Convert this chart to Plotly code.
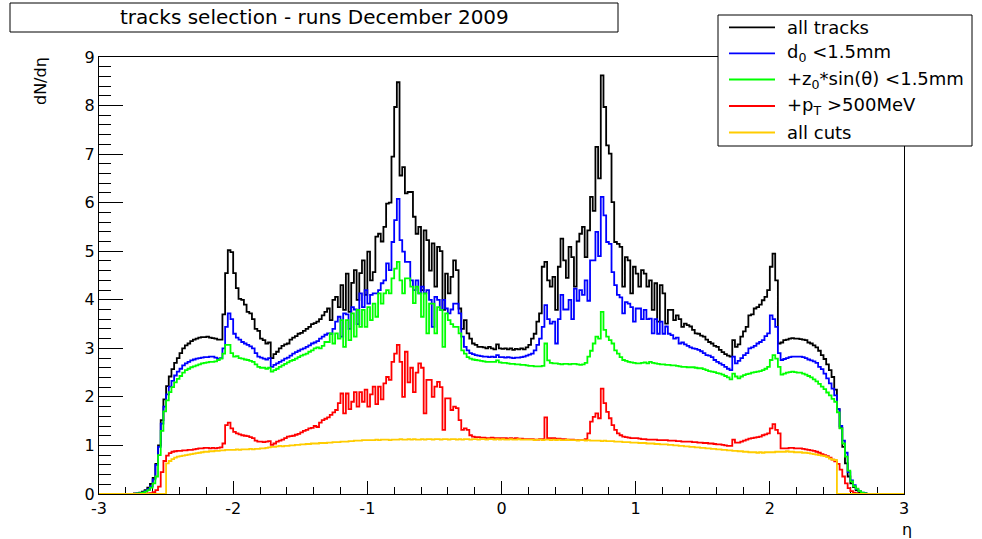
import numpy as np
import plotly.graph_objects as go

# ---------------- data (300 bins of width 0.02 from -3 to 3) ----------------
ETA_MIN = -3.0
ETA_MAX = 3.0
N_BINS = 300

all_tracks = [
    0, 0, 0, 0, 0, 0, 0, 0, 0, 0,
    0, 0, 0, 0.01, 0.01, 0.03, 0.05, 0.08, 0.13, 0.21,
    0.33, 0.62, 1.0, 1.52, 1.95, 2.22, 2.42, 2.57, 2.7, 2.8,
    2.9, 3.0, 3.06, 3.1, 3.15, 3.18, 3.2, 3.22, 3.23, 3.23,
    3.24, 3.22, 3.21, 3.2, 3.18, 3.18, 3.7, 4.55, 5.02, 4.98,
    4.55, 4.24, 4.02, 4.0, 3.9, 3.75, 3.72, 3.6, 3.4, 3.36,
    3.2, 3.17, 3.1, 3.12, 2.8, 2.88, 2.93, 3.0, 3.05, 3.08,
    3.1, 3.18, 3.22, 3.25, 3.3, 3.32, 3.36, 3.4, 3.44, 3.5,
    3.52, 3.55, 3.6, 3.68, 3.75, 3.82, 3.58, 4.0, 4.06, 3.85,
    4.3, 3.79, 4.54, 3.75, 4.35, 4.61, 4.0, 4.55, 4.81, 4.1,
    4.99, 4.4, 4.57, 5.3, 5.36, 5.2, 5.5, 5.98, 6.0, 6.95,
    7.97, 8.48, 6.56, 6.73, 6.19, 6.22, 6.22, 5.71, 5.36, 5.5,
    4.2, 5.43, 5.23, 4.6, 5.16, 4.27, 5.09, 5.0, 3.79, 4.54,
    4.13, 4.47, 4.81, 4.61, 3.82, 3.4, 3.58, 3.31, 3.2, 3.1,
    3.07, 3.03, 3.03, 3.02, 3.0, 3.03, 3.0, 2.98, 3.08, 3.0,
    2.99, 3.0, 2.98, 3.0, 2.97, 2.99, 2.98, 3.0, 2.98, 3.02,
    3.07, 3.2, 3.3, 3.55, 3.72, 4.68, 4.78, 4.4, 4.27, 4.47,
    3.79, 4.68, 5.26, 4.81, 4.45, 5.09, 4.88, 4.27, 5.2, 5.36,
    5.5, 4.88, 5.43, 6.12, 5.83, 7.15, 6.5, 8.62, 7.97, 7.18,
    7.01, 6.01, 5.19, 5.15, 5.09, 4.27, 4.88, 4.81, 4.13, 4.68,
    4.54, 4.27, 4.61, 4.54, 4.27, 4.4, 3.79, 4.34, 3.55, 4.3,
    4.13, 3.51, 3.79, 3.79, 3.58, 3.68, 3.6, 3.44, 3.51, 3.48,
    3.45, 3.38, 3.31, 3.3, 3.26, 3.24, 3.18, 3.13, 3.1, 3.05,
    3.03, 2.97, 2.92, 2.88, 2.85, 2.83, 3.17, 3.03, 3.08, 3.24,
    3.35, 3.44, 3.68, 3.7, 3.82, 3.85, 3.9, 3.99, 4.06, 4.2,
    4.68, 4.95, 4.4, 3.1, 3.12, 3.17, 3.18, 3.2, 3.21, 3.2,
    3.2, 3.19, 3.18, 3.17, 3.12, 3.1, 3.06, 3.02, 2.95, 2.86,
    2.78, 2.67, 2.55, 2.41, 2.15, 1.75, 1.36, 0.97, 0.63, 0.36,
    0.22, 0.14, 0.08, 0.04, 0.02, 0.01, 0, 0, 0, 0,
    0, 0, 0, 0, 0, 0, 0, 0, 0, 0,
]

d0_cut = [
    0, 0, 0, 0, 0, 0, 0, 0, 0, 0,
    0, 0, 0, 0, 0.01, 0.02, 0.03, 0.06, 0.1, 0.16,
    0.3, 0.6, 0.97, 1.45, 1.8, 2.05, 2.21, 2.33, 2.44, 2.52,
    2.58, 2.65, 2.69, 2.72, 2.75, 2.77, 2.79, 2.8, 2.81, 2.82,
    2.82, 2.83, 2.83, 2.81, 2.79, 2.8, 3.0, 3.44, 3.72, 3.6,
    3.3, 3.22, 3.18, 3.13, 3.1, 3.07, 3.04, 3.0, 2.9, 2.83,
    2.81, 2.79, 2.77, 2.8, 2.62, 2.66, 2.69, 2.72, 2.75, 2.79,
    2.81, 2.85, 2.89, 2.92, 2.95, 2.98, 3.0, 3.03, 3.06, 3.1,
    3.12, 3.15, 3.2, 3.24, 3.28, 3.31, 3.3, 3.4, 3.55, 3.65,
    3.24, 3.72, 3.7, 3.4, 3.85, 3.8, 3.5, 4.13, 3.85, 4.2,
    3.92, 4.1, 4.13, 4.13, 4.2, 4.34, 4.4, 4.75, 4.61, 5.19,
    5.64, 6.08, 5.23, 4.99, 4.78, 4.78, 4.4, 4.2, 4.4, 4.13,
    4.27, 4.13, 4.2, 4.0, 3.44, 4.06, 4.0, 3.79, 4.0, 3.82,
    3.72, 3.8, 3.92, 3.92, 3.72, 3.24, 3.03, 2.96, 2.9, 2.88,
    2.86, 2.85, 2.84, 2.83, 2.83, 2.82, 2.83, 2.82, 2.86, 2.82,
    2.82, 2.81, 2.82, 2.81, 2.8, 2.81, 2.81, 2.82, 2.83, 2.85,
    2.87, 2.89, 2.96, 3.07, 3.2, 3.44, 3.89, 3.6, 3.51, 3.55,
    3.1, 3.6, 4.1, 3.8, 3.8, 4.0, 3.6, 4.23, 3.98, 4.2,
    4.1, 4.4, 3.98, 4.81, 4.81, 5.4, 4.9, 6.12, 5.74, 5.19,
    5.15, 4.57, 4.3, 4.1, 4.05, 3.72, 3.95, 3.92, 3.85, 3.55,
    3.82, 3.82, 3.6, 3.79, 3.6, 3.61, 3.31, 3.6, 3.3, 3.55,
    3.3, 3.45, 3.3, 3.27, 3.2, 3.22, 3.1, 3.12, 3.08, 3.05,
    3.02, 3.0, 2.99, 2.97, 2.94, 2.9, 2.86, 2.85, 2.82, 2.76,
    2.72, 2.69, 2.66, 2.62, 2.58, 2.55, 2.83, 2.69, 2.74, 2.8,
    2.86, 2.9, 3.0, 3.02, 3.05, 3.1, 3.13, 3.17, 3.25, 3.31,
    3.68, 3.6, 3.44, 2.9, 2.76, 2.78, 2.8, 2.82, 2.83, 2.83,
    2.83, 2.83, 2.82, 2.8, 2.77, 2.75, 2.73, 2.7, 2.62, 2.57,
    2.48, 2.38, 2.28, 2.17, 2.03, 1.75, 1.4, 1.1, 0.85, 0.45,
    0.28, 0.18, 0.1, 0.06, 0.03, 0.01, 0, 0, 0, 0,
    0, 0, 0, 0, 0, 0, 0, 0, 0, 0,
]

z0_cut = [
    0, 0, 0, 0, 0, 0, 0, 0, 0, 0,
    0, 0, 0, 0, 0.01, 0.02, 0.03, 0.05, 0.08, 0.13,
    0.22, 0.36, 0.8, 1.3, 1.7, 1.93, 2.1, 2.2, 2.3, 2.37,
    2.43, 2.5, 2.55, 2.58, 2.61, 2.63, 2.65, 2.67, 2.69, 2.7,
    2.71, 2.72, 2.72, 2.73, 2.76, 2.79, 2.89, 3.07, 3.07, 2.9,
    2.83, 2.84, 2.8, 2.79, 2.77, 2.76, 2.74, 2.72, 2.67, 2.62,
    2.6, 2.6, 2.58, 2.6, 2.52, 2.55, 2.58, 2.62, 2.65, 2.68,
    2.71, 2.74, 2.76, 2.79, 2.82, 2.85, 2.87, 2.89, 2.93, 2.96,
    3.0, 3.02, 3.0, 3.05, 3.13, 3.13, 3.31, 3.1, 3.31, 3.2,
    3.58, 3.03, 3.58, 3.17, 3.72, 3.24, 3.79, 3.44, 3.79, 3.44,
    3.85, 3.58, 3.92, 3.65, 4.13, 3.92, 4.13, 4.2, 4.13, 4.44,
    4.64, 4.78, 4.4, 4.13, 4.44, 4.44, 4.27, 3.93, 4.27, 4.13,
    3.65, 4.13, 3.31, 3.92, 3.92, 3.31, 3.85, 3.79, 3.03, 3.72,
    3.58, 3.5, 3.44, 3.44, 3.31, 2.96, 2.89, 2.82, 2.79, 2.77,
    2.76, 2.75, 2.74, 2.73, 2.72, 2.72, 2.72, 2.72, 2.75, 2.71,
    2.7, 2.7, 2.69, 2.68, 2.68, 2.67, 2.67, 2.66, 2.66, 2.65,
    2.64, 2.64, 2.63, 2.63, 2.63, 2.64, 3.1, 2.75, 2.7, 2.69,
    2.69, 2.68, 2.67, 2.68, 2.68, 2.67, 2.68, 2.68, 2.67, 2.66,
    2.67, 2.7, 2.83, 2.95, 3.1, 3.24, 3.2, 3.75, 3.38, 3.24,
    3.17, 3.1, 2.96, 2.89, 2.82, 2.76, 2.74, 2.72, 2.71, 2.7,
    2.69, 2.69, 2.7, 2.71, 2.69, 2.72, 2.7, 2.69, 2.68, 2.67,
    2.67, 2.66, 2.66, 2.65, 2.65, 2.64, 2.63, 2.62, 2.62, 2.61,
    2.61, 2.61, 2.6, 2.59, 2.59, 2.57, 2.55, 2.53, 2.52, 2.51,
    2.49, 2.48, 2.46, 2.43, 2.4, 2.36, 2.48, 2.42, 2.38, 2.42,
    2.45, 2.47, 2.48, 2.5, 2.51, 2.52, 2.53, 2.55, 2.58, 2.62,
    2.76, 2.86, 2.79, 2.62, 2.46, 2.48, 2.5, 2.51, 2.52, 2.51,
    2.5, 2.5, 2.48, 2.46, 2.43, 2.4, 2.36, 2.32, 2.27, 2.21,
    2.16, 2.09, 2.03, 1.96, 1.9, 1.68, 1.35, 1.04, 0.77, 0.48,
    0.26, 0.16, 0.11, 0.06, 0.03, 0.01, 0, 0, 0, 0,
    0, 0, 0, 0, 0, 0, 0, 0, 0, 0,
]

pt_cut = [
    0, 0, 0, 0, 0, 0, 0, 0, 0, 0,
    0, 0, 0, 0, 0, 0, 0, 0, 0.01, 0.02,
    0.04, 0.08, 0.15, 0.45, 0.68, 0.79, 0.84, 0.87, 0.88, 0.89,
    0.89, 0.9, 0.9, 0.91, 0.91, 0.92, 0.93, 0.94, 0.94, 0.95,
    0.95, 0.94, 0.95, 0.94, 0.95, 0.96, 1.04, 1.42, 1.47, 1.35,
    1.28, 1.25, 1.23, 1.21, 1.2, 1.19, 1.17, 1.15, 1.1, 1.08,
    1.08, 1.07, 1.08, 1.09, 1.01, 1.04, 1.08, 1.1, 1.12, 1.15,
    1.18, 1.19, 1.2, 1.22, 1.24, 1.27, 1.3, 1.32, 1.35, 1.36,
    1.4, 1.38, 1.47, 1.52, 1.55, 1.58, 1.63, 1.68, 1.73, 1.87,
    2.07, 1.66, 2.07, 1.75, 1.9, 2.1, 1.8, 2.1, 1.9, 2.15,
    1.8, 2.05, 2.21, 1.85, 2.21, 1.95, 2.28, 2.41, 2.35, 2.72,
    2.89, 3.07, 2.72, 2.0, 2.93, 2.3, 2.6, 2.1, 2.5, 2.69,
    2.6, 1.66, 2.35, 2.35, 2.0, 2.21, 2.31, 2.2, 1.32, 1.97,
    1.97, 1.73, 1.8, 1.77, 1.52, 1.32, 1.35, 1.32, 1.21, 1.18,
    1.17, 1.17, 1.16, 1.16, 1.15, 1.15, 1.16, 1.15, 1.15, 1.15,
    1.15, 1.15, 1.14, 1.15, 1.14, 1.15, 1.14, 1.14, 1.13, 1.13,
    1.13, 1.13, 1.12, 1.12, 1.13, 1.13, 1.58, 1.15, 1.15, 1.15,
    1.14, 1.14, 1.13, 1.13, 1.12, 1.12, 1.12, 1.11, 1.11, 1.11,
    1.11, 1.13, 1.25, 1.49, 1.59, 1.66, 1.56, 2.17, 1.87, 1.69,
    1.56, 1.42, 1.32, 1.25, 1.21, 1.18, 1.17, 1.16, 1.15, 1.15,
    1.15, 1.14, 1.13, 1.13, 1.12, 1.12, 1.12, 1.12, 1.11, 1.11,
    1.11, 1.11, 1.1, 1.1, 1.1, 1.09, 1.09, 1.08, 1.08, 1.08,
    1.08, 1.07, 1.07, 1.06, 1.06, 1.05, 1.05, 1.04, 1.04, 1.03,
    1.02, 1.02, 1.01, 1.0, 0.99, 0.99, 1.12, 1.06, 1.06, 1.08,
    1.1, 1.12, 1.14, 1.15, 1.16, 1.17, 1.18, 1.21, 1.23, 1.25,
    1.35, 1.44, 1.32, 1.25, 0.94, 0.94, 0.94, 0.95, 0.95, 0.94,
    0.94, 0.94, 0.93, 0.92, 0.91, 0.9, 0.89, 0.87, 0.85, 0.82,
    0.8, 0.78, 0.75, 0.71, 0.67, 0.62, 0.5, 0.36, 0.22, 0.12,
    0.06, 0.03, 0.01, 0, 0, 0, 0, 0, 0, 0,
    0, 0, 0, 0, 0, 0, 0, 0, 0, 0,
]

all_cuts = [
    0, 0, 0, 0, 0, 0, 0, 0, 0, 0,
    0, 0, 0, 0, 0, 0, 0, 0, 0, 0,
    0, 0, 0, 0, 0, 0.63, 0.68, 0.72, 0.75, 0.77,
    0.78, 0.79, 0.8, 0.81, 0.82, 0.83, 0.84, 0.85, 0.86, 0.87,
    0.87, 0.88, 0.88, 0.89, 0.89, 0.9, 0.9, 0.91, 0.91, 0.91,
    0.91, 0.92, 0.91, 0.92, 0.92, 0.92, 0.93, 0.92, 0.93, 0.93,
    0.94, 0.94, 0.95, 0.96, 0.97, 0.97, 0.98, 0.99, 0.98, 0.99,
    0.99, 1.0, 1.0, 1.01, 1.01, 1.02, 1.02, 1.03, 1.03, 1.04,
    1.04, 1.04, 1.05, 1.05, 1.05, 1.06, 1.06, 1.07, 1.07, 1.07,
    1.08, 1.08, 1.08, 1.09, 1.09, 1.1, 1.1, 1.1, 1.11, 1.11,
    1.11, 1.11, 1.11, 1.12, 1.11, 1.12, 1.12, 1.12, 1.11, 1.12,
    1.12, 1.12, 1.13, 1.12, 1.12, 1.13, 1.12, 1.13, 1.12, 1.12,
    1.13, 1.12, 1.13, 1.13, 1.12, 1.13, 1.13, 1.12, 1.13, 1.13,
    1.12, 1.13, 1.13, 1.12, 1.13, 1.12, 1.13, 1.13, 1.12, 1.13,
    1.13, 1.12, 1.13, 1.13, 1.12, 1.13, 1.13, 1.12, 1.13, 1.12,
    1.13, 1.12, 1.12, 1.13, 1.12, 1.12, 1.13, 1.12, 1.12, 1.12,
    1.12, 1.12, 1.11, 1.12, 1.12, 1.11, 1.12, 1.12, 1.11, 1.12,
    1.11, 1.12, 1.11, 1.11, 1.12, 1.11, 1.11, 1.11, 1.1, 1.11,
    1.11, 1.1, 1.11, 1.1, 1.1, 1.1, 1.1, 1.09, 1.1, 1.09,
    1.09, 1.09, 1.08, 1.08, 1.08, 1.07, 1.07, 1.07, 1.06, 1.06,
    1.06, 1.05, 1.05, 1.05, 1.04, 1.04, 1.04, 1.03, 1.03, 1.02,
    1.02, 1.02, 1.01, 1.01, 1.0, 1.0, 0.99, 0.99, 0.98, 0.98,
    0.97, 0.97, 0.96, 0.96, 0.95, 0.95, 0.94, 0.94, 0.93, 0.93,
    0.92, 0.92, 0.91, 0.91, 0.9, 0.9, 0.89, 0.89, 0.88, 0.88,
    0.87, 0.87, 0.86, 0.86, 0.86, 0.85, 0.86, 0.85, 0.86, 0.86,
    0.86, 0.86, 0.87, 0.87, 0.87, 0.87, 0.88, 0.87, 0.87, 0.86,
    0.86, 0.86, 0.85, 0.85, 0.84, 0.83, 0.82, 0.81, 0.8, 0.79,
    0.78, 0.76, 0.73, 0.71, 0.7, 0, 0, 0, 0, 0,
    0, 0, 0, 0, 0, 0, 0, 0, 0, 0,
    0, 0, 0, 0, 0, 0, 0, 0, 0, 0,
]

series_names = ["all tracks", "d0 cut", "z0 cut", "pT cut", "all cuts"]
legend_labels = [
    "all tracks",
    "d<sub>0</sub> &lt;1.5mm",
    "+z<sub>0</sub>*sin(θ) &lt;1.5mm",
    "+p<sub>T</sub> &gt;500MeV",
    "all cuts",
]
series_colors = ["#000000", "#0000ff", "#00ff00", "#ff0000", "#ffcc00"]
series_values = [all_tracks, d0_cut, z0_cut, pt_cut, all_cuts]

title_text = "tracks selection - runs December 2009"
x_tick_vals = [-3, -2, -1, 0, 1, 2, 3]
y_tick_vals = [0, 1, 2, 3, 4, 5, 6, 7, 8, 9]

for v in series_values:
    assert len(v) == N_BINS

# ---------------- figure ----------------
W, H = 982, 539
L, R, T, B = 99, 904, 57, 494   # plot-area pixel box


def px(xp):
    return (xp - L) / (R - L)


def py(yp):
    return (B - yp) / (B - T)


edges = np.linspace(ETA_MIN, ETA_MAX, N_BINS + 1)
FONT = "DejaVu Sans"

fig = go.Figure()
for name, vals, col in zip(series_names, series_values, series_colors):
    yv = list(vals) + [vals[-1]]
    fig.add_trace(go.Scatter(
        x=edges, y=yv, mode="lines", name=name,
        line=dict(color=col, width=1.8, shape="hv"),
        cliponaxis=False, showlegend=False, hoverinfo="skip",
    ))

fig.update_layout(
    width=W, height=H,
    margin=dict(l=L, r=W - R, t=T, b=H - B, pad=0),
    paper_bgcolor="white", plot_bgcolor="white",
    font=dict(family=FONT, size=16, color="black"),
    showlegend=False,
)
fig.update_xaxes(
    range=[ETA_MIN, ETA_MAX], showgrid=False, zeroline=False,
    showline=True, linecolor="black", linewidth=1, mirror=True,
    ticks="inside", ticklen=13, tickwidth=1, tickcolor="black",
    tickvals=x_tick_vals, ticktext=[str(v) for v in x_tick_vals],
    minor=dict(ticks="inside", ticklen=7, dtick=0.2, tick0=0, tickcolor="black", showgrid=False),
    tickfont=dict(family=FONT, size=16), layer="below traces",
)
fig.update_yaxes(
    range=[0, 9], showgrid=False, zeroline=False,
    showline=True, linecolor="black", linewidth=1, mirror=True,
    ticks="inside", ticklen=24, tickwidth=1, tickcolor="black",
    tickvals=y_tick_vals, ticktext=[str(v) for v in y_tick_vals],
    minor=dict(ticks="inside", ticklen=12, dtick=0.2, tick0=0, tickcolor="black", showgrid=False),
    tickfont=dict(family=FONT, size=16),
)

shapes = []
annotations = []

# title box
shapes.append(dict(type="rect", xref="paper", yref="paper",
                   x0=px(10), x1=px(618), y0=py(32), y1=py(3),
                   line=dict(color="black", width=1), fillcolor="white"))
annotations.append(dict(xref="paper", yref="paper", x=px(314), y=py(17.5),
                        text=title_text, showarrow=False,
                        xanchor="center", yanchor="middle",
                        font=dict(family=FONT, size=20)))

# axis titles
annotations.append(dict(xref="paper", yref="paper", x=px(907), y=py(518),
                        text="η", showarrow=False, xanchor="center", yanchor="top",
                        font=dict(family=FONT, size=16)))
annotations.append(dict(xref="paper", yref="paper", x=px(40), y=py(55),
                        text="dN/dη", showarrow=False, textangle=-90,
                        xanchor="center", yanchor="top",
                        font=dict(family=FONT, size=16)))

# legend box
shapes.append(dict(type="rect", xref="paper", yref="paper",
                   x0=px(718), x1=px(972), y0=py(146), y1=py(15),
                   line=dict(color="black", width=1), fillcolor="white", layer="above"))
row_y = [27.3, 53.3, 79.5, 106, 132.5]
for lab, col, ry in zip(legend_labels, series_colors, row_y):
    shapes.append(dict(type="line", xref="paper", yref="paper",
                       x0=px(729), x1=px(775), y0=py(ry), y1=py(ry),
                       line=dict(color=col, width=1.8), layer="above"))
    annotations.append(dict(xref="paper", yref="paper", x=px(785), y=py(ry),
                            text=lab, showarrow=False, xanchor="left", yanchor="middle",
                            font=dict(family=FONT, size=18)))

fig.update_layout(shapes=shapes, annotations=annotations)
fig.write_html("out.html")
